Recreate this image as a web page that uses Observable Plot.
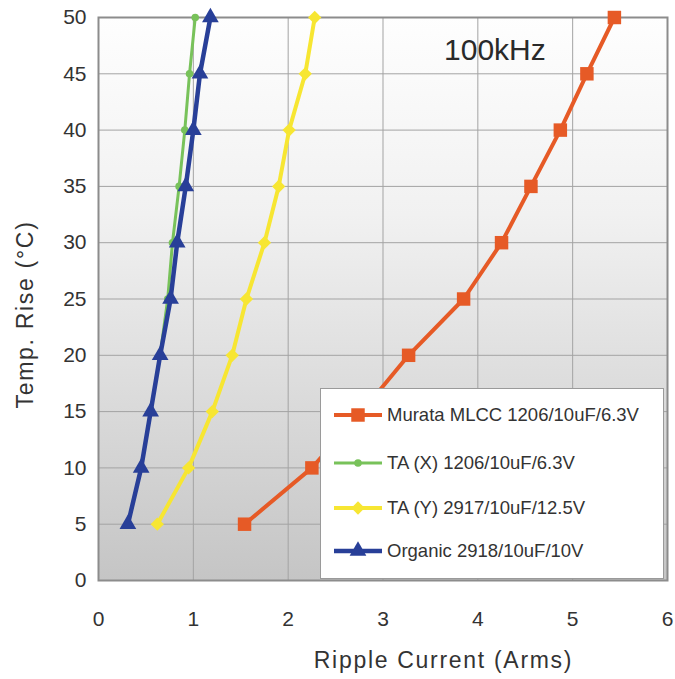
<!DOCTYPE html>
<html>
<head>
<meta charset="utf-8">
<script src="https://cdn.jsdelivr.net/npm/d3@7"></script>
<script src="https://cdn.jsdelivr.net/npm/@observablehq/plot@0.6"></script>
<style>
  body { margin: 0; background: #fff; font-family: "Liberation Sans", Arial, sans-serif; }
  #wrap { position: relative; width: 675px; height: 679px; }
  #legend { position: absolute; background: #fff; border: 1px solid #9a9a9a; box-sizing: border-box; }
  .row { position: absolute; left: 12px; display: flex; align-items: center; font-size: 18.5px; color: #333; white-space: nowrap; }
  .row svg { margin-right: 4px; }
</style>
</head>
<body>
<div id="wrap"></div>
<script>
// ---- data ----
const temps = [5, 10, 15, 20, 25, 30, 35, 40, 45, 50];
const murata  = [1.54, 2.25, 2.78, 3.27, 3.85, 4.25, 4.56, 4.87, 5.15, 5.44];
const taX     = [0.31, 0.45, 0.55, 0.65, 0.73, 0.78, 0.85, 0.91, 0.96, 1.02];
const taY     = [0.62, 0.95, 1.20, 1.41, 1.56, 1.75, 1.90, 2.01, 2.18, 2.28];
const organic = [0.31, 0.45, 0.55, 0.65, 0.76, 0.83, 0.92, 1.00, 1.07, 1.18];
const seriesNames = ["Murata MLCC 1206/10uF/6.3V", "TA (X) 1206/10uF/6.3V", "TA (Y) 2917/10uF/12.5V", "Organic 2918/10uF/10V"];
const xTicks = [0, 1, 2, 3, 4, 5, 6];
const yTicks = [0, 5, 10, 15, 20, 25, 30, 35, 40, 45, 50];
const xTitle = "Ripple Current (Arms)";
const yTitle = "Temp. Rise (°C)";
const annotation = [{x: 4.18, y: 47.1, text: "100kHz"}];

// ---- styles ----
const styles = [
  {color: "#e65a26", symbol: "square",   r: 7.6, sw: 4},
  {color: "#78c25a", symbol: "circle",   r: 3.8, sw: 3},
  {color: "#f7e632", symbol: "diamond2", r: 6.0, sw: 4},
  {color: "#283f98", symbol: "triangle", r: 6.2, sw: 4.5}
];
const seriesVals = [murata, taX, taY, organic];
const rows = seriesVals.flatMap((vals, s) => vals.map((v, i) => ({series: seriesNames[s], s, x: v, y: temps[i]})));

function background(index, scales, values, dims) {
  const g = d3.create("svg:g");
  const lg = g.append("defs").append("linearGradient").attr("id", "bggrad")
    .attr("x1", 0).attr("y1", 0).attr("x2", 0).attr("y2", 1);
  lg.append("stop").attr("offset", "0%").attr("stop-color", "#fefefe");
  lg.append("stop").attr("offset", "35%").attr("stop-color", "#f1f1f1");
  lg.append("stop").attr("offset", "100%").attr("stop-color", "#c5c5c5");
  g.append("rect")
    .attr("x", dims.marginLeft).attr("y", dims.marginTop)
    .attr("width", dims.width - dims.marginLeft - dims.marginRight)
    .attr("height", dims.height - dims.marginTop - dims.marginBottom)
    .attr("fill", "url(#bggrad)");
  return g.node();
}

function titles(index, scales, values, dims) {
  const g = d3.create("svg:g")
    .attr("font-family", "Liberation Sans")
    .attr("font-size", 23)
    .attr("fill", "#333")
    .attr("text-anchor", "middle")
    .style("letter-spacing", "1.7px");
  const left = dims.marginLeft, right = dims.width - dims.marginRight;
  const top = dims.marginTop, bottom = dims.height - dims.marginBottom;
  g.append("text")
    .attr("x", (left + right) / 2 + 61)
    .attr("y", bottom + 80)
    .attr("dy", "0.35em")
    .text(xTitle);
  g.append("text")
    .attr("transform", `translate(${left - 73},${(top + bottom) / 2 + 16}) rotate(-90)`)
    .attr("dy", "0.35em")
    .text(yTitle);
  return g.node();
}

const marks = [
  background,
  Plot.ruleX(xTicks.slice(1, -1), {stroke: "#a3a3a3", strokeWidth: 1}),
  Plot.ruleY(yTicks.slice(1, -1), {stroke: "#a3a3a3", strokeWidth: 1}),
  Plot.frame({stroke: "#8c8c8c", strokeWidth: 2})
];
styles.forEach((st, s) => {
  const d = rows.filter(r => r.s === s);
  marks.push(Plot.line(d, {x: "x", y: "y", stroke: st.color, strokeWidth: st.sw}));
  marks.push(Plot.dot(d, {x: "x", y: "y", fill: st.color, stroke: "none", symbol: () => st.symbol, r: st.r}));
});
marks.push(
  Plot.text(annotation, {x: "x", y: "y", text: "text", fontSize: 30, fill: "#2a2a2a", fontFamily: "Liberation Sans"}),
  Plot.axisX(xTicks, {tickSize: 0, tickPadding: 31, fontSize: 21, fill: "#333", label: null, fontFamily: "Liberation Sans"}),
  Plot.axisY(yTicks, {tickSize: 0, tickPadding: 12, fontSize: 21, fill: "#333", label: null, fontFamily: "Liberation Sans"}),
  titles
);

const chart = Plot.plot({
  width: 675,
  height: 679,
  marginLeft: 98,
  marginRight: 8,
  marginTop: 17,
  marginBottom: 99,
  x: {domain: [0, 6]},
  y: {domain: [0, 50]},
  style: {background: "white", fontFamily: "Liberation Sans"},
  marks
});
const wrap = document.getElementById("wrap");
wrap.appendChild(chart);

// ---- legend (HTML overlay inside plot area) ----
const legend = document.createElement("div");
legend.id = "legend";
Object.assign(legend.style, {left: "320px", top: "388px", width: "344px", height: "191px"});
const rowTops = [14, 62, 107, 150];
const symMap = {square: d3.symbolSquare, circle: d3.symbolCircle, diamond2: d3.symbolDiamond2 || d3.symbolDiamond, triangle: d3.symbolTriangle};
styles.forEach((st, s) => {
  const row = document.createElement("div");
  row.className = "row";
  row.style.top = rowTops[s] + "px";
  const sv = d3.create("svg").attr("width", 50).attr("height", 24);
  sv.append("line").attr("x1", 1).attr("x2", 49).attr("y1", 12).attr("y2", 12)
    .attr("stroke", st.color).attr("stroke-width", st.sw);
  sv.append("path").attr("transform", "translate(25,12)")
    .attr("d", d3.symbol(symMap[st.symbol], Math.PI * st.r * st.r)())
    .attr("fill", st.color);
  row.appendChild(sv.node());
  const span = document.createElement("span");
  span.textContent = seriesNames[s];
  row.appendChild(span);
  legend.appendChild(row);
});
wrap.appendChild(legend);
</script>
</body>
</html>
